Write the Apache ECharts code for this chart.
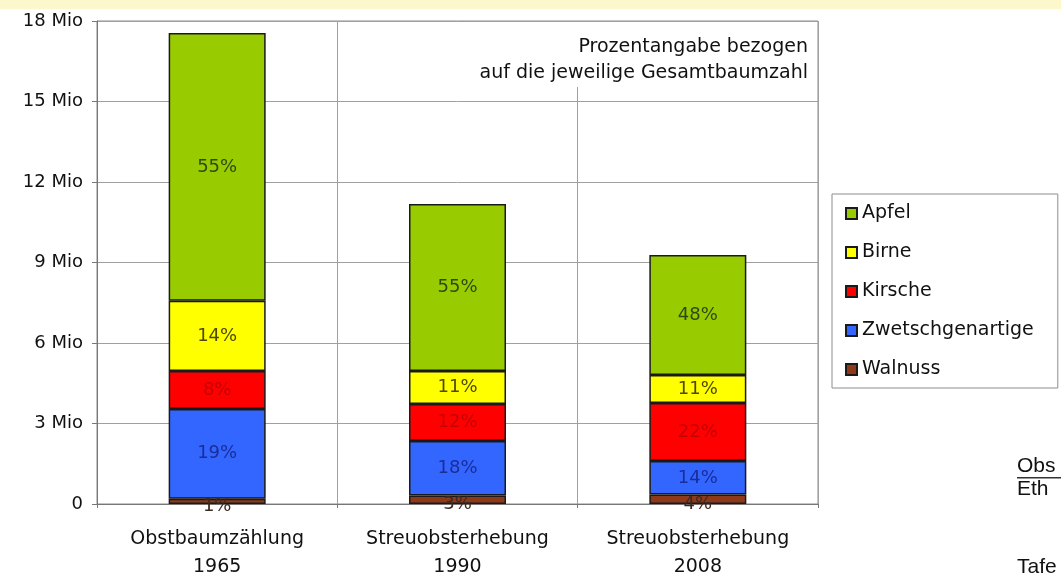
<!DOCTYPE html>
<html><head><meta charset="utf-8">
<script src="https://cdn.jsdelivr.net/npm/echarts@6/dist/echarts.min.js"></script>
<style>html,body{margin:0;padding:0;background:#fff}#c{width:1061px;height:579px}</style>
</head><body><div id="c"></div>
<script>
// ---- data (values in Mio trees) ----
const categories = ['Obstbaumzählung\n1965', 'Streuobsterhebung\n1990', 'Streuobsterhebung\n2008'];
const walnuss = [0.20, 0.32, 0.35];
const zwetschgenartige = [3.34, 2.03, 1.25];
const kirsche = [1.42, 1.38, 2.16];
const birne = [2.61, 1.23, 1.05];
const apfel = [9.98, 6.22, 4.47];
// percentage labels as printed in the chart
const pctWalnuss = ['1%', '3%', '4%'];
const pctZwetschgenartige = ['19%', '18%', '14%'];
const pctKirsche = ['8%', '12%', '22%'];
const pctBirne = ['14%', '11%', '11%'];
const pctApfel = ['55%', '55%', '48%'];
const yTickLabels = ['0', '3 Mio', '6 Mio', '9 Mio', '12 Mio', '15 Mio', '18 Mio'];
const legendOrder = ['Apfel', 'Birne', 'Kirsche', 'Zwetschgenartige', 'Walnuss'];

const F = 'DejaVu Sans';
const chart = echarts.init(document.getElementById('c'), null, {renderer: 'canvas'});

function mk(name, data, pct, color, labelColor, offset) {
  return {
    name, type: 'bar', stack: 'total', data, barWidth: 97,
    itemStyle: {color, borderColor: '#1a1a1a', borderWidth: 1.5},
    label: {show: true, position: 'inside', offset: offset || [0, 0], color: labelColor,
      fontFamily: F, fontSize: 18, formatter: p => pct[p.dataIndex]},
    emphasis: {disabled: true}
  };
}

const option = {
  animation: false,
  textStyle: {fontFamily: F},
  grid: {left: 97, right: 243, top: 21, bottom: 75, outerBoundsMode: 'none', containLabel: false,
    show: true, borderColor: '#8a8a8a', borderWidth: 1},
  xAxis: {
    type: 'category', data: categories,
    axisLine: {lineStyle: {color: '#777'}},
    axisTick: {show: true, length: 4, lineStyle: {color: '#777'}},
    splitLine: {show: true, lineStyle: {color: '#a0a0a0'}},
    axisLabel: {fontSize: 19, color: '#111', lineHeight: 28, margin: 21, fontFamily: F}
  },
  yAxis: {
    type: 'value', min: 0, max: 18, interval: 3,
    axisLine: {show: true, lineStyle: {color: '#777'}},
    axisTick: {show: true, length: 5, lineStyle: {color: '#777'}},
    splitLine: {lineStyle: {color: '#a0a0a0'}},
    axisLabel: {fontSize: 18, color: '#111', margin: 14, fontFamily: F,
      formatter: v => yTickLabels[Math.round(v / 3)]}
  },
  legend: {
    orient: 'vertical', left: 832, top: 194, data: legendOrder,
    itemWidth: 11, itemHeight: 11, itemGap: 20, icon: 'rect',
    padding: [10, 24, 9, 13], borderColor: '#8c8c8c', borderWidth: 1,
    textStyle: {fontSize: 19, color: '#111', fontFamily: F}
  },
  graphic: [
    {type: 'rect', z: 100, shape: {x: 0, y: 0, width: 1061, height: 9}, style: {fill: '#fdf8cc'}, silent: true},
    {type: 'rect', z: 100, shape: {x: 455, y: 22, width: 362, height: 65}, style: {fill: '#ffffff'}, silent: true},
    {type: 'text', z: 101, style: {text: 'Prozentangabe bezogen', x: 808, y: 47, align: 'right', verticalAlign: 'middle', font: '19px "DejaVu Sans"', fill: '#111'}},
    {type: 'text', z: 101, style: {text: 'auf die jeweilige Gesamtbaumzahl', x: 808, y: 73, align: 'right', verticalAlign: 'middle', font: '19px "DejaVu Sans"', fill: '#111'}},
    {type: 'text', z: 101, style: {text: 'Obs', x: 1017, y: 466, verticalAlign: 'middle', font: '21px "Liberation Sans"', fill: '#111'}},
    {type: 'rect', z: 101, shape: {x: 1017, y: 477, width: 44, height: 1.5}, style: {fill: '#333'}},
    {type: 'text', z: 101, style: {text: 'Eth', x: 1017, y: 489, verticalAlign: 'middle', font: '21px "Liberation Sans"', fill: '#111'}},
    {type: 'text', z: 101, style: {text: 'Tafe', x: 1017, y: 567, verticalAlign: 'middle', font: '21px "Liberation Sans"', fill: '#111'}}
  ],
  series: [
    mk('Walnuss', walnuss, pctWalnuss, '#8e3a1a', '#3a2a22', [0, 5]),
    mk('Zwetschgenartige', zwetschgenartige, pctZwetschgenartige, '#3366ff', '#1a2d99'),
    mk('Kirsche', kirsche, pctKirsche, '#ff0000', '#c40000'),
    mk('Birne', birne, pctBirne, '#ffff00', '#4d4a00'),
    mk('Apfel', apfel, pctApfel, '#99cc00', '#2f4a10')
  ]
};
chart.setOption(option);
</script>
</body></html>
